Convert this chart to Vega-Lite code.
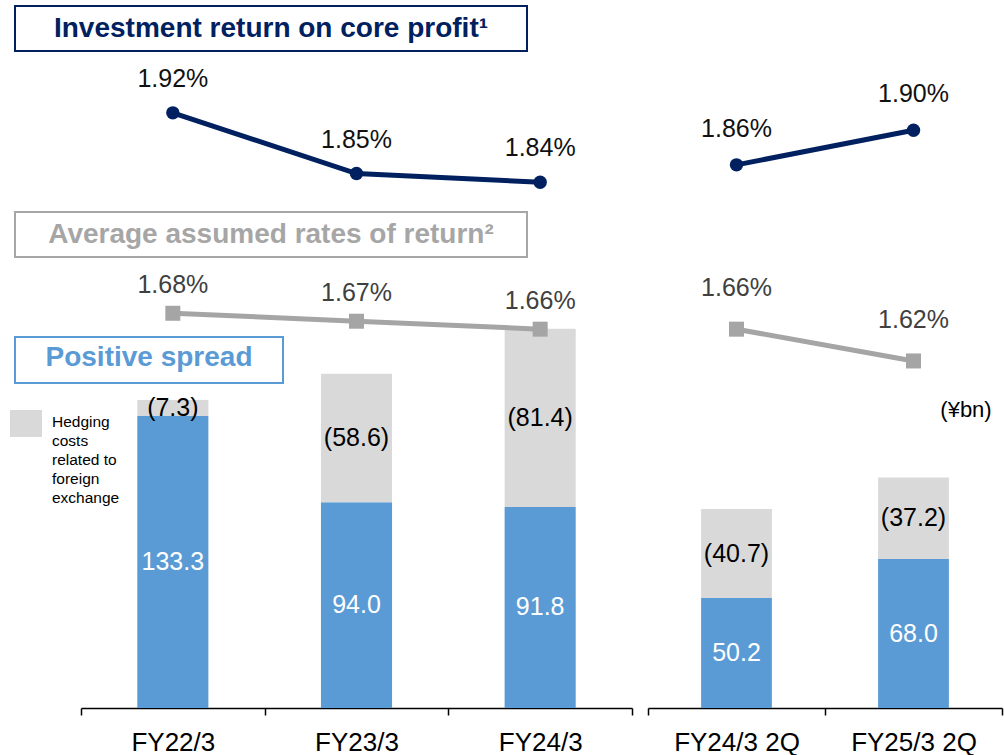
{
  "$schema": "https://vega.github.io/schema/vega-lite/v6.json",
  "width": 1004,
  "height": 708,
  "autosize": {"type": "none"},
  "padding": {"left": 0, "top": 0, "right": 0, "bottom": 47},
  "background": "#ffffff",
  "config": {"view": {"stroke": null}, "font": "Liberation Sans"},
  "datasets": {
    "annual": [
      {"period": "FY22/3", "positive": 133.3, "hedge": 7.3, "core": 0.0192, "assumed": 0.0168},
      {"period": "FY23/3", "positive": 94.0, "hedge": 58.6, "core": 0.0185, "assumed": 0.0167},
      {"period": "FY24/3", "positive": 91.8, "hedge": 81.4, "core": 0.0184, "assumed": 0.0166}
    ],
    "half": [
      {"period": "FY24/3 2Q", "positive": 50.2, "hedge": 40.7, "core": 0.0186, "assumed": 0.0166},
      {"period": "FY25/3 2Q", "positive": 68.0, "hedge": 37.2, "core": 0.0190, "assumed": 0.0162}
    ]
  },
  "layer": [
    {
      "data": {"name": "annual"},
      "encoding": {
        "x": {
          "field": "period", "type": "nominal", "sort": null,
          "scale": {"domain": ["FY22/3", "FY23/3", "FY24/3"], "range": [81, 632], "paddingInner": 0, "paddingOuter": 0},
          "axis": {"orient": "bottom", "title": null, "labelAngle": 0, "tickBand": "extent", "domainColor": "#000000", "domainWidth": 1.5, "tickColor": "#000000", "tickWidth": 1.5, "tickSize": 7, "labelFontSize": 26, "labelFont": "Liberation Sans", "labelColor": "#000000", "labelPadding": 14, "grid": false}
        }
      },
      "layer": [
        {
          "transform": [{"fold": ["positive", "hedge"], "as": ["key", "value"]}],
          "mark": {"type": "bar", "width": {"band": 0.387}},
          "encoding": {
            "y": {"field": "value", "type": "quantitative", "stack": "zero", "scale": {"domain": [0, 323.3], "nice": false}, "axis": null},
            "color": {"field": "key", "type": "nominal", "scale": {"domain": ["positive", "hedge"], "range": ["#5B9BD5", "#D9D9D9"]}, "legend": null},
            "order": {"field": "key", "sort": "descending"}
          }
        },
        {
          "transform": [{"fold": ["positive", "hedge"], "as": ["key", "value"]}],
          "mark": {"type": "text", "fontSize": 25, "baseline": "middle", "align": "center", "text": {"expr": "datum.key == 'hedge' ? '(' + format(datum.value, '.1f') + ')' : format(datum.value, '.1f')"}},
          "encoding": {
            "y": {"field": "value", "type": "quantitative", "stack": "zero", "bandPosition": 0.5, "scale": {"domain": [0, 323.3], "nice": false}, "axis": null},
            "detail": {"field": "key", "type": "nominal"},
            "order": {"field": "key", "sort": "descending"},
            "color": {"condition": {"test": "datum.key == 'positive'", "value": "#ffffff"}, "value": "#000000"}
          }
        },
        {
          "mark": {"type": "line", "color": "#002060", "strokeWidth": 5},
          "encoding": {"y": {"field": "core", "type": "quantitative", "scale": {"domain": [0.012334, 0.020502], "nice": false, "zero": false}, "axis": null}}
        },
        {
          "mark": {"type": "point", "shape": "circle", "filled": true, "size": 180, "color": "#002060", "opacity": 1},
          "encoding": {"y": {"field": "core", "type": "quantitative", "scale": {"domain": [0.012334, 0.020502], "nice": false, "zero": false}, "axis": null}}
        },
        {
          "mark": {"type": "text", "fontSize": 25, "dy": -34, "baseline": "middle", "color": "#111111"},
          "encoding": {
            "y": {"field": "core", "type": "quantitative", "scale": {"domain": [0.012334, 0.020502], "nice": false, "zero": false}, "axis": null},
            "text": {"field": "core", "type": "quantitative", "format": ".2%"}
          }
        },
        {
          "mark": {"type": "line", "color": "#A5A5A5", "strokeWidth": 5},
          "encoding": {"y": {"field": "assumed", "type": "quantitative", "scale": {"domain": [0.011833, 0.020742], "nice": false, "zero": false}, "axis": null}}
        },
        {
          "mark": {"type": "point", "shape": "square", "filled": true, "size": 225, "color": "#A5A5A5", "opacity": 1},
          "encoding": {"y": {"field": "assumed", "type": "quantitative", "scale": {"domain": [0.011833, 0.020742], "nice": false, "zero": false}, "axis": null}}
        },
        {
          "mark": {"type": "text", "fontSize": 25, "dy": -28, "baseline": "middle", "color": "#404040"},
          "encoding": {
            "y": {"field": "assumed", "type": "quantitative", "scale": {"domain": [0.011833, 0.020742], "nice": false, "zero": false}, "axis": null},
            "text": {"field": "assumed", "type": "quantitative", "format": ".2%"}
          }
        }
      ],
      "resolve": {"scale": {"y": "independent"}}
    },
    {
      "data": {"name": "half"},
      "encoding": {
        "x": {
          "field": "period", "type": "nominal", "sort": null,
          "scale": {"domain": ["FY24/3 2Q", "FY25/3 2Q"], "range": [648, 1002], "paddingInner": 0, "paddingOuter": 0},
          "axis": {"orient": "bottom", "title": null, "labelAngle": 0, "tickBand": "extent", "domainColor": "#000000", "domainWidth": 1.5, "tickColor": "#000000", "tickWidth": 1.5, "tickSize": 7, "labelFontSize": 26, "labelFont": "Liberation Sans", "labelColor": "#000000", "labelPadding": 14, "grid": false}
        }
      },
      "layer": [
        {
          "transform": [{"fold": ["positive", "hedge"], "as": ["key", "value"]}],
          "mark": {"type": "bar", "width": {"band": 0.4}},
          "encoding": {
            "y": {"field": "value", "type": "quantitative", "stack": "zero", "scale": {"domain": [0, 323.3], "nice": false}, "axis": null},
            "color": {"field": "key", "type": "nominal", "scale": {"domain": ["positive", "hedge"], "range": ["#5B9BD5", "#D9D9D9"]}, "legend": null},
            "order": {"field": "key", "sort": "descending"}
          }
        },
        {
          "transform": [{"fold": ["positive", "hedge"], "as": ["key", "value"]}],
          "mark": {"type": "text", "fontSize": 25, "baseline": "middle", "align": "center", "text": {"expr": "datum.key == 'hedge' ? '(' + format(datum.value, '.1f') + ')' : format(datum.value, '.1f')"}},
          "encoding": {
            "y": {"field": "value", "type": "quantitative", "stack": "zero", "bandPosition": 0.5, "scale": {"domain": [0, 323.3], "nice": false}, "axis": null},
            "detail": {"field": "key", "type": "nominal"},
            "order": {"field": "key", "sort": "descending"},
            "color": {"condition": {"test": "datum.key == 'positive'", "value": "#ffffff"}, "value": "#000000"}
          }
        },
        {
          "mark": {"type": "line", "color": "#002060", "strokeWidth": 5},
          "encoding": {"y": {"field": "core", "type": "quantitative", "scale": {"domain": [0.012334, 0.020502], "nice": false, "zero": false}, "axis": null}}
        },
        {
          "mark": {"type": "point", "shape": "circle", "filled": true, "size": 180, "color": "#002060", "opacity": 1},
          "encoding": {"y": {"field": "core", "type": "quantitative", "scale": {"domain": [0.012334, 0.020502], "nice": false, "zero": false}, "axis": null}}
        },
        {
          "mark": {"type": "text", "fontSize": 25, "dy": -36, "baseline": "middle", "color": "#111111"},
          "encoding": {
            "y": {"field": "core", "type": "quantitative", "scale": {"domain": [0.012334, 0.020502], "nice": false, "zero": false}, "axis": null},
            "text": {"field": "core", "type": "quantitative", "format": ".2%"}
          }
        },
        {
          "mark": {"type": "line", "color": "#A5A5A5", "strokeWidth": 5},
          "encoding": {"y": {"field": "assumed", "type": "quantitative", "scale": {"domain": [0.011833, 0.020742], "nice": false, "zero": false}, "axis": null}}
        },
        {
          "mark": {"type": "point", "shape": "square", "filled": true, "size": 225, "color": "#A5A5A5", "opacity": 1},
          "encoding": {"y": {"field": "assumed", "type": "quantitative", "scale": {"domain": [0.011833, 0.020742], "nice": false, "zero": false}, "axis": null}}
        },
        {
          "mark": {"type": "text", "fontSize": 25, "dy": -41, "baseline": "middle", "color": "#404040"},
          "encoding": {
            "y": {"field": "assumed", "type": "quantitative", "scale": {"domain": [0.011833, 0.020742], "nice": false, "zero": false}, "axis": null},
            "text": {"field": "assumed", "type": "quantitative", "format": ".2%"}
          }
        }
      ],
      "resolve": {"scale": {"y": "independent"}}
    },
    {
      "data": {"values": [{"label": "Investment return on core profit¹", "box": "core"}]},
      "layer": [
        {
          "mark": {"type": "rect", "fill": "#ffffff", "stroke": "#002060", "strokeWidth": 2},
          "encoding": {
            "x": {"datum": -0.3593, "type": "quantitative", "scale": {"domain": [-0.441, 5.0253], "nice": false, "zero": false}, "axis": null},
            "x2": {"datum": 2.4283},
            "y": {"datum": 320.55, "type": "quantitative", "scale": {"domain": [0, 323.3], "nice": false}, "axis": null},
            "y2": {"datum": 300.0}
          }
        },
        {
          "mark": {"type": "text", "fontSize": 28, "fontWeight": "bold", "color": "#002060", "align": "center", "baseline": "middle"},
          "encoding": {
            "x": {"datum": 1.0345, "type": "quantitative", "scale": {"domain": [-0.441, 5.0253], "nice": false, "zero": false}, "axis": null},
            "y": {"datum": 310.05, "type": "quantitative", "scale": {"domain": [0, 323.3], "nice": false}, "axis": null},
            "text": {"field": "label", "type": "nominal"}
          }
        },
        {
          "data": {"values": [{"label": "Average assumed rates of return²"}]},
          "mark": {"type": "rect", "fill": "#ffffff", "stroke": "#A6A6A6", "strokeWidth": 2},
          "encoding": {
            "x": {"datum": -0.3593, "type": "quantitative", "scale": {"domain": [-0.441, 5.0253], "nice": false, "zero": false}, "axis": null},
            "x2": {"datum": 2.4283},
            "y": {"datum": 226.48, "type": "quantitative", "scale": {"domain": [0, 323.3], "nice": false}, "axis": null},
            "y2": {"datum": 205.94}
          }
        },
        {
          "data": {"values": [{"label": "Average assumed rates of return²"}]},
          "mark": {"type": "text", "fontSize": 28, "fontWeight": "bold", "color": "#A6A6A6", "align": "center", "baseline": "middle"},
          "encoding": {
            "x": {"datum": 1.0345, "type": "quantitative", "scale": {"domain": [-0.441, 5.0253], "nice": false, "zero": false}, "axis": null},
            "y": {"datum": 216.21, "type": "quantitative", "scale": {"domain": [0, 323.3], "nice": false}, "axis": null},
            "text": {"field": "label", "type": "nominal"}
          }
        },
        {
          "data": {"values": [{"label": "Positive spread"}]},
          "mark": {"type": "rect", "fill": "#ffffff", "stroke": "#5B9BD5", "strokeWidth": 2},
          "encoding": {
            "x": {"datum": -0.3593, "type": "quantitative", "scale": {"domain": [-0.441, 5.0253], "nice": false, "zero": false}, "axis": null},
            "x2": {"datum": 1.0998},
            "y": {"datum": 169.41, "type": "quantitative", "scale": {"domain": [0, 323.3], "nice": false}, "axis": null},
            "y2": {"datum": 148.40}
          }
        },
        {
          "data": {"values": [{"label": "Positive spread"}]},
          "mark": {"type": "text", "fontSize": 28, "fontWeight": "bold", "color": "#5B9BD5", "align": "center", "baseline": "middle"},
          "encoding": {
            "x": {"datum": 0.3702, "type": "quantitative", "scale": {"domain": [-0.441, 5.0253], "nice": false, "zero": false}, "axis": null},
            "y": {"datum": 159.82, "type": "quantitative", "scale": {"domain": [0, 323.3], "nice": false}, "axis": null},
            "text": {"field": "label", "type": "nominal"}
          }
        },
        {
          "data": {"values": [{"label": "hedge"}]},
          "mark": {"type": "rect", "fill": "#D9D9D9"},
          "encoding": {
            "x": {"datum": -0.3866, "type": "quantitative", "scale": {"domain": [-0.441, 5.0253], "nice": false, "zero": false}, "axis": null},
            "x2": {"datum": -0.2123},
            "y": {"datum": 136.07, "type": "quantitative", "scale": {"domain": [0, 323.3], "nice": false}, "axis": null},
            "y2": {"datum": 123.74}
          }
        },
        {
          "data": {"values": [{"label": ["Hedging", "costs", "related to", "foreign", "exchange"]}]},
          "mark": {"type": "text", "fontSize": 15.5, "color": "#000000", "align": "left", "baseline": "alphabetic", "lineHeight": 19},
          "encoding": {
            "x": {"datum": -0.1579, "type": "quantitative", "scale": {"domain": [-0.441, 5.0253], "nice": false, "zero": false}, "axis": null},
            "y": {"datum": 128.54, "type": "quantitative", "scale": {"domain": [0, 323.3], "nice": false}, "axis": null},
            "text": {"field": "label", "type": "nominal"}
          }
        },
        {
          "data": {"values": [{"label": "(¥bn)"}]},
          "mark": {"type": "text", "fontSize": 22, "color": "#000000", "align": "center", "baseline": "middle"},
          "encoding": {
            "x": {"datum": 4.8184, "type": "quantitative", "scale": {"domain": [-0.441, 5.0253], "nice": false, "zero": false}, "axis": null},
            "y": {"datum": 136.07, "type": "quantitative", "scale": {"domain": [0, 323.3], "nice": false}, "axis": null},
            "text": {"field": "label", "type": "nominal"}
          }
        }
      ]
    }
  ],
  "resolve": {"scale": {"x": "independent", "y": "independent"}}
}
